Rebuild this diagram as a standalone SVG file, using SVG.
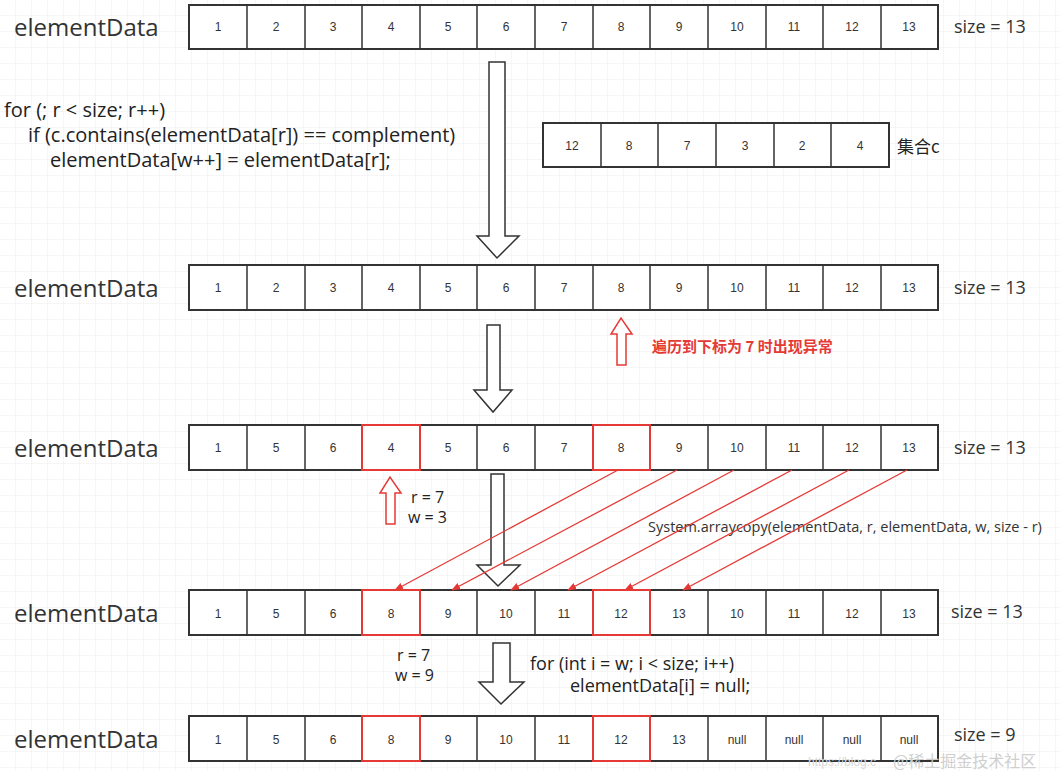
<svg xmlns="http://www.w3.org/2000/svg" width="1060" height="771" viewBox="0 0 1060 771">
<defs>
<pattern id="grid" width="16" height="16" patternUnits="userSpaceOnUse"><path d="M16 0V16H0" fill="none" stroke="#ececec" stroke-width="1"/></pattern>
<marker id="ra" viewBox="0 0 10 10" refX="9" refY="5" markerWidth="7" markerHeight="7" orient="auto"><path d="M0,1 L10,5 L0,9 z" fill="#e53935"/></marker>
<style>
.c{fill:#fff;stroke:#333;stroke-width:2}
.rc{fill:none;stroke:#e53935;stroke-width:2}
.n{font-family:"Liberation Sans",sans-serif;font-size:12px;fill:#333;text-anchor:middle}
.lbl{font-family:"Open Sans","Liberation Sans",sans-serif;font-size:24px;fill:#333}
.sz{font-family:"Open Sans","Liberation Sans",sans-serif;font-size:18px;fill:#333}
.code{font-family:"Open Sans","Liberation Sans",sans-serif;font-size:17px;fill:#222}
.ha{fill:#fff;stroke:#333;stroke-width:1.5}
.hr{fill:#fff;stroke:#e53935;stroke-width:1.5}
.rl{stroke:#e53935;stroke-width:1.3;fill:none}
</style>
</defs>
<rect width="1060" height="771" fill="#fff"/>
<rect width="1060" height="771" fill="url(#grid)"/>

<g id="row1">
<text class="lbl" x="14" y="36">elementData</text>
<rect class="c" x="189" y="5" width="749" height="44"/>
<path d="M247 5V49M305 5V49M362 5V49M420 5V49M477 5V49M535 5V49M593 5V49M650 5V49M708 5V49M766 5V49M823 5V49M881 5V49" stroke="#333" stroke-width="1.5"/>
<g class="n"><text x="218" y="31">1</text><text x="276" y="31">2</text><text x="333" y="31">3</text><text x="391" y="31">4</text><text x="448" y="31">5</text><text x="506" y="31">6</text><text x="564" y="31">7</text><text x="621" y="31">8</text><text x="679" y="31">9</text><text x="737" y="31">10</text><text x="794" y="31">11</text><text x="852" y="31">12</text><text x="909" y="31">13</text></g>
<text class="sz" x="954" y="33">size = 13</text>
</g>

<g id="code1" class="code" style="font-size:20px">
<text x="4" y="117">for (; r &lt; size; r++)</text>
<text x="28" y="142">if (c.contains(elementData[r]) == complement)</text>
<text x="50" y="167">elementData[w++] = elementData[r];</text>
</g>

<g id="setc">
<rect class="c" x="543" y="123" width="346" height="44"/>
<path d="M601 123V167M658 123V167M716 123V167M774 123V167M831 123V167" stroke="#333" stroke-width="1.5"/>
<g class="n"><text x="572" y="150">12</text><text x="629" y="150">8</text><text x="687" y="150">7</text><text x="745" y="150">3</text><text x="802" y="150">2</text><text x="860" y="150">4</text></g>
<text x="897" y="153" style="font-family:'Noto Sans CJK SC',sans-serif;font-size:17px;fill:#222">集合c</text>
</g>

<g id="row2">
<text class="lbl" x="14" y="297">elementData</text>
<rect class="c" x="189" y="265" width="749" height="45"/>
<path d="M247 265V310M305 265V310M362 265V310M420 265V310M477 265V310M535 265V310M593 265V310M650 265V310M708 265V310M766 265V310M823 265V310M881 265V310" stroke="#333" stroke-width="1.5"/>
<g class="n"><text x="218" y="292">1</text><text x="276" y="292">2</text><text x="333" y="292">3</text><text x="391" y="292">4</text><text x="448" y="292">5</text><text x="506" y="292">6</text><text x="564" y="292">7</text><text x="621" y="292">8</text><text x="679" y="292">9</text><text x="737" y="292">10</text><text x="794" y="292">11</text><text x="852" y="292">12</text><text x="909" y="292">13</text></g>
<text class="sz" x="954" y="294">size = 13</text>
</g>

<g id="note">
<text x="652" y="352" style="font-family:'Noto Sans CJK SC',sans-serif;font-size:15px;font-weight:bold;fill:#e53935">遍历到下标为 7 时出现异常</text>
</g>

<g id="row3">
<text class="lbl" x="14" y="457">elementData</text>
<rect class="c" x="189" y="425" width="749" height="45"/>
<path d="M247 425V470M305 425V470M362 425V470M420 425V470M477 425V470M535 425V470M593 425V470M650 425V470M708 425V470M766 425V470M823 425V470M881 425V470" stroke="#333" stroke-width="1.5"/>
<rect class="rc" x="362" y="425" width="58" height="45"/><rect class="rc" x="593" y="425" width="57" height="45"/>
<g class="n"><text x="218" y="452">1</text><text x="276" y="452">5</text><text x="333" y="452">6</text><text x="391" y="452">4</text><text x="448" y="452">5</text><text x="506" y="452">6</text><text x="564" y="452">7</text><text x="621" y="452">8</text><text x="679" y="452">9</text><text x="737" y="452">10</text><text x="794" y="452">11</text><text x="852" y="452">12</text><text x="909" y="452">13</text></g>
<text class="sz" x="954" y="454">size = 13</text>
</g>

<g id="rw1" class="code"><text x="411" y="503" style="font-size:16px">r = 7</text><text x="408" y="523" style="font-size:16px">w = 3</text></g>
<text x="648" y="532" style="font-family:'Open Sans','Liberation Sans',sans-serif;font-size:14.5px;fill:#333">System.arraycopy(elementData, r, elementData, w, size - r)</text>

<g id="row4">
<text class="lbl" x="14" y="622">elementData</text>
<rect class="c" x="189" y="590" width="749" height="45"/>
<path d="M247 590V635M305 590V635M362 590V635M420 590V635M477 590V635M535 590V635M593 590V635M650 590V635M708 590V635M766 590V635M823 590V635M881 590V635" stroke="#333" stroke-width="1.5"/>
<rect class="rc" x="362" y="590" width="58" height="45"/><rect class="rc" x="593" y="590" width="57" height="45"/>
<g class="n"><text x="218" y="618">1</text><text x="276" y="618">5</text><text x="333" y="618">6</text><text x="391" y="618">8</text><text x="448" y="618">9</text><text x="506" y="618">10</text><text x="564" y="618">11</text><text x="621" y="618">12</text><text x="679" y="618">13</text><text x="737" y="618">10</text><text x="794" y="618">11</text><text x="852" y="618">12</text><text x="909" y="618">13</text></g>
<text class="sz" x="951" y="618">size = 13</text>
</g>

<g id="rw2" class="code"><text x="397" y="661" style="font-size:16px">r = 7</text><text x="395" y="681" style="font-size:16px">w = 9</text></g>
<g id="code2" class="code" style="font-size:18px"><text x="530" y="670">for (int i = w; i &lt; size; i++)</text><text x="570" y="692">elementData[i] = null;</text></g>

<g id="row5">
<text class="lbl" x="14" y="748">elementData</text>
<rect class="c" x="189" y="716" width="749" height="45"/>
<path d="M247 716V761M305 716V761M362 716V761M420 716V761M477 716V761M535 716V761M593 716V761M650 716V761M708 716V761M766 716V761M823 716V761M881 716V761" stroke="#333" stroke-width="1.5"/>
<rect class="rc" x="362" y="716" width="58" height="45"/><rect class="rc" x="593" y="716" width="57" height="45"/>
<g class="n"><text x="218" y="744">1</text><text x="276" y="744">5</text><text x="333" y="744">6</text><text x="391" y="744">8</text><text x="448" y="744">9</text><text x="506" y="744">10</text><text x="564" y="744">11</text><text x="621" y="744">12</text><text x="679" y="744">13</text><text x="737" y="744">null</text><text x="794" y="744">null</text><text x="852" y="744">null</text><text x="909" y="744">null</text></g>
<text class="sz" x="954" y="741">size = 9</text>
</g>

<g id="connectors">
<path class="ha" d="M489 62H505V236H519L497 258L477 236H489Z"/>
<path class="ha" d="M487 325H500V390H512L493 412L474 390H487Z"/>
<path class="ha" d="M491 474H504V565H520L498 586L477 565H491Z"/>
<path class="ha" d="M493 643H510V682H524L501 704L479 682H493Z"/>
<path class="hr" d="M617 365H626V334H632L621 318L611 334H617Z"/>
<path class="hr" d="M386 524H395V493H401L390 477L380 493H386Z"/>
<path class="rl" marker-end="url(#ra)" d="M618 470L395 590"/>
<path class="rl" marker-end="url(#ra)" d="M677 470L452 590"/>
<path class="rl" marker-end="url(#ra)" d="M734 470L511 590"/>
<path class="rl" marker-end="url(#ra)" d="M792 470L568 590"/>
<path class="rl" marker-end="url(#ra)" d="M849 470L625 590"/>
<path class="rl" marker-end="url(#ra)" d="M907 470L683 590"/>
</g>
<text x="808" y="766" style="font-family:'Liberation Sans',sans-serif;font-size:12px;fill:#d8d8d8">https://blog.c</text>
<text x="893" y="767" style="font-family:'Noto Sans CJK SC',sans-serif;font-size:16px;fill:#cfcfcf">@稀土掘金技术社区</text>
</svg>
